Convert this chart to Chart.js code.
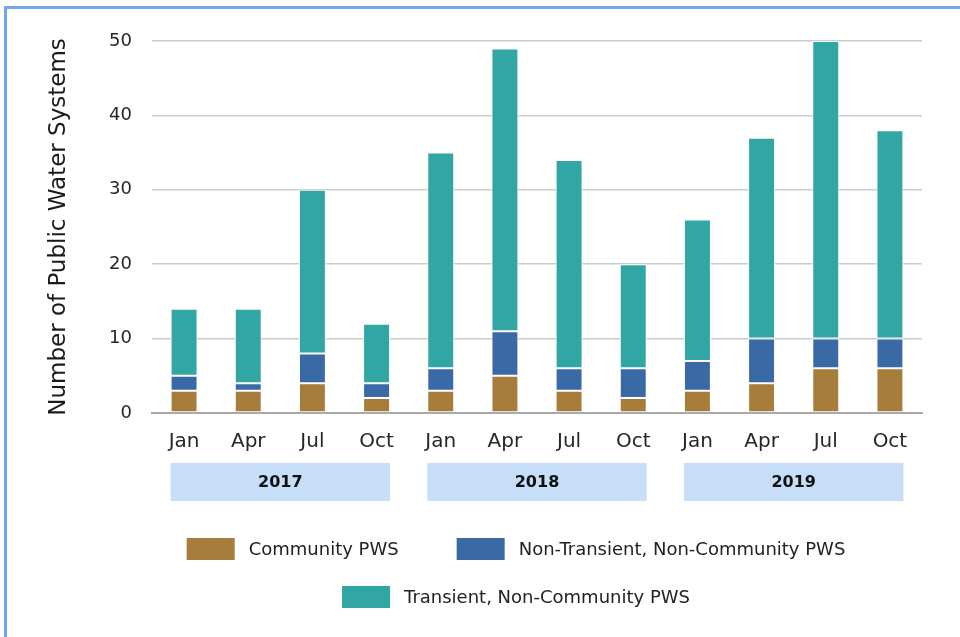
<!DOCTYPE html>
<html>
<head>
<meta charset="utf-8">
<script src="https://cdn.jsdelivr.net/npm/chart.js@4.4.1/dist/chart.umd.min.js"></script>
<style>
  html, body { margin: 0; padding: 0; background: #fff; overflow: hidden; }
  #wrap { position: relative; width: 960px; height: 637px; }
  #frame { position: absolute; left: 4px; top: 6px; width: 1100px; height: 800px;
           border: 3px solid #6FA8F0; box-sizing: border-box; pointer-events: none; z-index: 2; }
  canvas { position: absolute; left: 0; top: 0; }
</style>
</head>
<body>
<div id="wrap">
  <canvas id="c" width="960" height="637"></canvas>
  <div id="frame"></div>
</div>
<script>
const categories = ['Jan','Apr','Jul','Oct','Jan','Apr','Jul','Oct','Jan','Apr','Jul','Oct'];
const yearLabels = ['2017','2018','2019'];
const monthsPerYear = 4;
const communityPWS = [3, 3, 4, 2, 3, 5, 3, 2, 3, 4, 6, 6];
const nonTransientPWS = [2, 1, 4, 2, 3, 6, 3, 4, 4, 6, 4, 4];
const transientPWS = [9, 10, 22, 8, 29, 38, 28, 14, 19, 27, 40, 28];
const yTicks = [0, 10, 20, 30, 40, 50];

const FONT = '"DejaVu Sans", sans-serif';

const yearBands = {
  id: 'yearBands',
  afterDraw(chart) {
    const ctx = chart.ctx;
    const xs = chart.scales.x;
    const meta = chart.getDatasetMeta(0);
    ctx.save();
    yearLabels.forEach((yr, g) => {
      const i0 = g * monthsPerYear, i1 = i0 + monthsPerYear - 1;
      const b0 = meta.data[i0], b1 = meta.data[i1];
      const x0 = xs.getPixelForValue(i0) - b0.width / 2;
      const x1 = xs.getPixelForValue(i1) + b1.width / 2;
      ctx.fillStyle = '#C6DEF7';
      ctx.fillRect(x0, 463, x1 - x0, 38);
      ctx.fillStyle = '#111';
      ctx.font = 'bold 16px ' + FONT;
      ctx.textAlign = 'center';
      ctx.textBaseline = 'middle';
      ctx.fillText(yr, (x0 + x1) / 2, 483);
    });
    ctx.restore();
  }
};

const customLegend = {
  id: 'customLegend',
  afterDraw(chart) {
    const ctx = chart.ctx;
    const ds = chart.data.datasets;
    const rows = [[0, 1], [2]];
    const rowY = [549, 597];
    const boxW = 48, boxH = 22, gapText = 14, gapItem = 58, centerX = 516;
    ctx.save();
    ctx.font = '18px ' + FONT;
    ctx.textBaseline = 'middle';
    ctx.textAlign = 'left';
    rows.forEach((row, r) => {
      const widths = row.map(i => boxW + gapText + ctx.measureText(ds[i].label).width);
      const total = widths.reduce((a, b) => a + b, 0) + gapItem * (row.length - 1);
      let x = centerX - total / 2;
      row.forEach((i, k) => {
        ctx.fillStyle = ds[i].backgroundColor;
        ctx.fillRect(x, rowY[r] - boxH / 2, boxW, boxH);
        ctx.fillStyle = '#222';
        ctx.fillText(ds[i].label, x + boxW + gapText, rowY[r] + 1);
        x += widths[k] + gapItem;
      });
    });
    ctx.restore();
  }
};

const common = { borderColor: '#ffffff', borderWidth: 1, borderSkipped: false,
                 barPercentage: 0.42, categoryPercentage: 1.0 };

new Chart(document.getElementById('c'), {
  type: 'bar',
  data: {
    labels: categories,
    datasets: [
      Object.assign({ label: 'Community PWS', data: communityPWS, backgroundColor: '#A67D3A' }, common),
      Object.assign({ label: 'Non-Transient, Non-Community PWS', data: nonTransientPWS, backgroundColor: '#3A6AA5' }, common),
      Object.assign({ label: 'Transient, Non-Community PWS', data: transientPWS, backgroundColor: '#31A6A5' }, common)
    ]
  },
  options: {
    responsive: false,
    animation: false,
    layout: { padding: { left: 45, right: 38, top: 41, bottom: 0 } },
    plugins: { legend: { display: false }, tooltip: { enabled: false } },
    scales: {
      x: {
        stacked: true,
        grid: { display: false, drawTicks: false },
        border: { display: true, color: '#A8A8A8', width: 2 },
        ticks: { color: '#262626', font: { family: FONT, size: 20 }, padding: 17 },
        afterFit(axis) { axis.height = 637 - 413; }
      },
      y: {
        stacked: true,
        min: 0, max: 50,
        afterBuildTicks(axis) { axis.ticks = yTicks.map(v => ({ value: v })); },
        grid: { color: '#CCCCCC', lineWidth: 1.5, drawTicks: false },
        border: { display: false },
        ticks: { color: '#262626', font: { family: FONT, size: 18 }, padding: 20 },
        title: { display: true, text: 'Number of Public Water Systems', color: '#1a1a1a',
                 font: { family: FONT, size: 23 }, padding: 0 },
        afterFit(axis) { axis.width = 152 - 45; }
      }
    }
  },
  plugins: [yearBands, customLegend]
});
</script>
</body>
</html>
